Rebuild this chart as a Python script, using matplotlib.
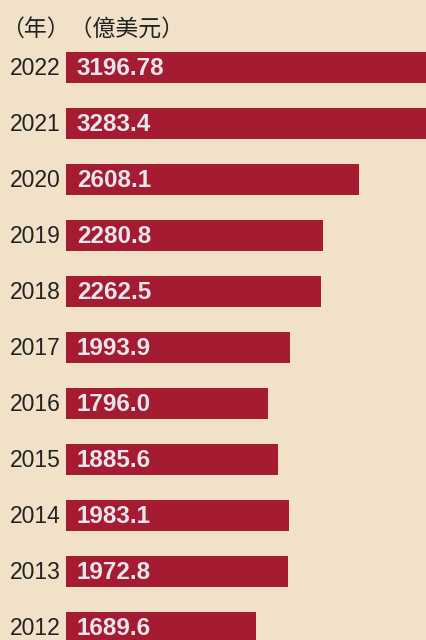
import matplotlib
matplotlib.use("Agg")
import matplotlib.pyplot as plt

years = ["2022", "2021", "2020", "2019", "2018", "2017", "2016", "2015", "2014", "2013", "2012"]
values = [3196.78, 3283.4, 2608.1, 2280.8, 2262.5, 1993.9, 1796.0, 1885.6, 1983.1, 1972.8, 1689.6]
labels = ["3196.78", "3283.4", "2608.1", "2280.8", "2262.5", "1993.9", "1796.0", "1885.6", "1983.1", "1972.8", "1689.6"]

bg = "#F1E1C8"
bar_color = "#A51B31"

W, H = 426, 640
fig = plt.figure(figsize=(W / 100, H / 100), dpi=100)
fig.patch.set_facecolor(bg)

# axes from the bar base to the right edge, full height
ax = fig.add_axes([66 / W, 0, 1 - 66 / W, 1])
ax.set_facecolor(bg)
ax.set_xlim(0, 3200)
# first bar centre ~67.5px from top, 56px apart
step = 56
ax.set_ylim((H - 67.5) / step, -67.5 / step)

ypos = list(range(len(years)))
ax.barh(ypos, values, height=0.555, color=bar_color, linewidth=0)

for y, yr, lab in zip(ypos, years, labels):
    ax.text(95, y + 0.02, lab, ha="left", va="center", color="#E4E6EC",
            fontsize=17.5, fontweight="bold", family=["Liberation Sans", "DejaVu Sans"])
    ax.text(-50, y + 0.02, yr, ha="right", va="center", color="#222222",
            fontsize=16.5, family=["Liberation Sans", "DejaVu Sans"], clip_on=False)

ax.axis("off")

fig.text(1 / W, 1 - 30 / H, "（年）（億美元）", ha="left", va="center", color="#222222",
         fontsize=16.5, family=["Noto Sans CJK TC", "DejaVu Sans"])

fig.savefig("out.png", dpi=100, facecolor=bg)
